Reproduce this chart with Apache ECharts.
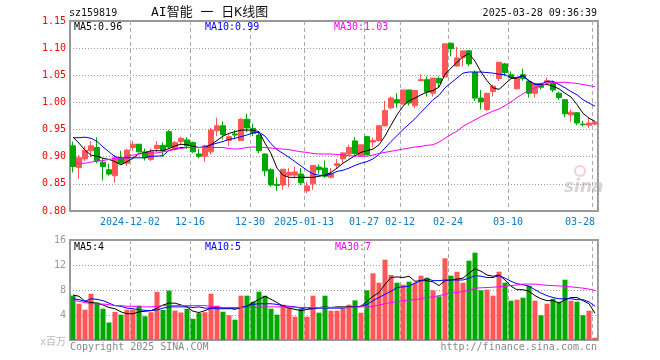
<!DOCTYPE html>
<html><head><meta charset="utf-8">
<script src="https://cdn.jsdelivr.net/npm/echarts/dist/echarts.min.js"></script>
<style>html,body{margin:0;padding:0;background:#fff}#c{width:660px;height:360px}</style>
</head><body><div id="c"></div>
<script>
const dates = ['2024-11-18','2024-11-19','2024-11-20','2024-11-21','2024-11-22','2024-11-25','2024-11-26','2024-11-27','2024-11-28','2024-11-29',
'2024-12-02','2024-12-03','2024-12-04','2024-12-05','2024-12-06','2024-12-09','2024-12-10','2024-12-11','2024-12-12','2024-12-13',
'2024-12-16','2024-12-17','2024-12-18','2024-12-19','2024-12-20','2024-12-23','2024-12-24','2024-12-25','2024-12-26','2024-12-27',
'2024-12-30','2024-12-31','2025-01-02','2025-01-03','2025-01-06','2025-01-07','2025-01-08','2025-01-09','2025-01-10',
'2025-01-13','2025-01-14','2025-01-15','2025-01-16','2025-01-17','2025-01-20','2025-01-21','2025-01-22','2025-01-23','2025-01-24',
'2025-01-27','2025-02-05','2025-02-06','2025-02-07','2025-02-10','2025-02-11',
'2025-02-12','2025-02-13','2025-02-14','2025-02-17','2025-02-18','2025-02-19','2025-02-20','2025-02-21',
'2025-02-24','2025-02-25','2025-02-26','2025-02-27','2025-02-28','2025-03-03','2025-03-04','2025-03-05','2025-03-06','2025-03-07',
'2025-03-10','2025-03-11','2025-03-12','2025-03-13','2025-03-14','2025-03-17','2025-03-18','2025-03-19','2025-03-20','2025-03-21',
'2025-03-24','2025-03-25','2025-03-26','2025-03-27','2025-03-28'];

const tickDates = ['2024-12-02','2024-12-16','2024-12-30','2025-01-13','2025-01-27','2025-02-12','2025-02-24','2025-03-10','2025-03-28'];
const tickText  = ['2024-12-02','12-16','12-30','2025-01-13','01-27','02-12','02-24','03-10','03-28'];

const open  = [0.920,0.880,0.896,0.911,0.917,0.890,0.876,0.865,0.897,0.888,
0.917,0.923,0.909,0.895,0.915,0.921,0.946,0.914,0.928,0.931,
0.926,0.905,0.901,0.909,0.948,0.957,0.930,0.942,0.930,0.969,
0.952,0.940,0.905,0.876,0.849,0.848,0.866,0.866,0.868,0.837,
0.850,0.881,0.879,0.862,0.884,0.896,0.905,0.929,0.902,0.937,
0.927,0.930,0.957,0.990,1.005,0.997,1.023,0.994,1.040,1.042,
1.017,1.044,1.047,1.109,1.067,1.083,1.095,1.055,1.008,0.987,
1.020,1.044,1.071,1.051,1.025,1.051,1.039,1.017,1.034,1.036,
1.036,1.017,1.005,0.977,0.981,0.960,0.958,0.960];
const close = [0.882,0.898,0.912,0.920,0.892,0.882,0.868,0.898,0.888,0.912,
0.923,0.909,0.898,0.909,0.921,0.912,0.918,0.926,0.934,0.920,
0.909,0.901,0.920,0.949,0.957,0.941,0.937,0.940,0.969,0.953,
0.943,0.911,0.874,0.848,0.847,0.877,0.871,0.872,0.852,0.846,
0.884,0.876,0.864,0.869,0.887,0.907,0.917,0.906,0.922,0.904,
0.930,0.957,0.985,1.008,0.999,1.023,0.999,1.022,1.042,1.019,
1.045,1.036,1.108,1.099,1.082,1.095,1.071,1.008,1.001,1.017,
1.030,1.074,1.055,1.046,1.045,1.044,1.017,1.034,1.028,1.040,
1.023,1.009,0.979,0.982,0.962,0.959,0.962,0.964];
const low   = [0.871,0.859,0.892,0.899,0.888,0.856,0.865,0.852,0.888,0.883,
0.911,0.908,0.893,0.892,0.909,0.900,0.915,0.911,0.923,0.914,
0.907,0.897,0.891,0.904,0.938,0.932,0.920,0.932,0.929,0.945,
0.938,0.906,0.864,0.845,0.837,0.839,0.844,0.860,0.848,0.833,
0.839,0.869,0.861,0.860,0.879,0.887,0.901,0.902,0.900,0.902,
0.917,0.928,0.956,0.987,0.990,0.995,0.994,0.989,1.039,1.011,
1.011,1.028,1.047,1.085,1.066,1.066,1.067,1.003,0.987,0.984,
1.011,1.039,1.048,1.044,1.024,1.040,1.009,1.009,1.024,1.033,
1.019,1.005,0.973,0.964,0.958,0.956,0.953,0.958];
const high  = [0.928,0.903,0.920,0.929,0.936,0.897,0.887,0.903,0.911,0.915,
0.929,0.923,0.915,0.915,0.929,0.926,0.949,0.929,0.937,0.936,
0.928,0.914,0.922,0.953,0.972,0.965,0.941,0.949,0.971,0.979,
0.961,0.947,0.906,0.879,0.862,0.877,0.879,0.882,0.879,0.854,
0.884,0.886,0.893,0.879,0.896,0.908,0.922,0.936,0.922,0.938,
0.935,0.957,1.003,1.011,1.017,1.023,1.023,1.023,1.052,1.048,
1.045,1.048,1.108,1.110,1.102,1.095,1.097,1.059,1.023,1.017,
1.033,1.074,1.073,1.057,1.046,1.062,1.042,1.036,1.036,1.046,
1.040,1.020,1.006,0.987,0.982,0.966,0.971,0.965];

const ma5 = [0.936,0.925,0.912,0.903,0.901,0.897,0.895,0.891,0.885,0.891,
0.897,0.906,0.907,0.911,0.911,0.911,0.915,0.920,0.923,0.922,
0.919,0.917,0.917,0.922,0.930,0.938,0.943,0.946,0.949,0.949,
0.949,0.946,0.925,0.906,0.879,0.866,0.862,0.862,0.862,0.862,
0.862,0.864,0.866,0.871,0.879,0.888,0.895,0.902,0.908,0.911,
0.914,0.922,0.938,0.958,0.977,0.993,1.003,1.008,1.014,1.019,
1.022,1.028,1.052,1.063,1.074,1.084,1.090,1.076,1.056,1.040,
1.027,1.024,1.034,1.044,1.045,1.049,1.039,1.034,1.033,1.033,
1.030,1.025,1.017,1.010,0.996,0.980,0.971,0.965];
const ma10 = [0.935,0.935,0.936,0.934,0.928,0.918,0.909,0.900,0.898,0.898,
0.898,0.898,0.898,0.901,0.901,0.902,0.912,0.914,0.917,0.917,
0.917,0.917,0.918,0.922,0.925,0.928,0.932,0.934,0.937,0.940,
0.944,0.945,0.938,0.924,0.913,0.906,0.899,0.891,0.883,0.875,
0.868,0.866,0.865,0.868,0.873,0.875,0.879,0.884,0.888,0.891,
0.896,0.904,0.916,0.928,0.939,0.950,0.960,0.970,0.982,0.993,
1.005,1.013,1.027,1.036,1.045,1.054,1.056,1.056,1.056,1.055,
1.054,1.052,1.051,1.046,1.046,1.050,1.040,1.033,1.034,1.039,
1.039,1.033,1.027,1.020,1.014,1.005,0.999,0.993];
const ma30 = [0.888,0.888,0.888,0.890,0.892,0.893,0.895,0.897,0.897,0.901,
0.903,0.905,0.906,0.907,0.907,0.909,0.911,0.914,0.915,0.917,
0.917,0.917,0.917,0.917,0.917,0.917,0.915,0.914,0.915,0.917,
0.918,0.917,0.917,0.916,0.915,0.914,0.913,0.911,0.909,0.908,
0.906,0.905,0.905,0.905,0.904,0.903,0.902,0.901,0.901,0.901,
0.903,0.906,0.908,0.910,0.912,0.914,0.916,0.918,0.919,0.921,
0.922,0.927,0.934,0.941,0.947,0.956,0.962,0.968,0.974,0.979,
0.984,0.988,0.994,1.001,1.009,1.016,1.022,1.027,1.031,1.035,
1.037,1.037,1.037,1.036,1.035,1.033,1.031,1.029];

const vol = [7.1,5.8,4.85,7.4,6.0,5.0,2.8,4.5,4.05,4.85,
4.85,5.5,3.8,4.45,7.7,4.8,7.9,4.7,4.4,5.0,
3.4,4.3,4.45,7.4,5.5,4.53,3.95,3.25,7.09,7.09,
6.13,7.73,7.09,5.01,4.05,5.65,5.17,3.73,5.01,3.73,
7.09,4.37,7.09,4.69,4.69,5.01,5.65,6.35,4.37,7.95,
10.67,9.17,12.85,10.4,9.17,8.85,9.33,9.17,10.29,9.97,
7.95,6.99,13.07,10.29,10.93,9.17,12.69,13.97,7.95,8.05,
7.09,10.93,9.17,6.29,6.45,6.77,8.69,6.29,3.95,5.81,
6.61,6.13,9.65,6.29,6.13,3.95,4.69,0.37];
const vma5 = [7.2,7.0,6.2,6.0,5.9,5.6,5.2,5.0,4.5,4.2,
4.2,4.5,4.6,4.7,5.1,5.6,5.9,5.9,5.6,5.3,
4.6,4.4,4.7,5.1,5.2,5.1,5.1,4.9,5.2,5.4,
6.0,6.5,7.0,6.5,6.0,5.4,5.1,4.9,4.7,4.9,
5.2,5.2,5.3,5.2,5.3,5.3,5.3,5.3,5.4,6.2,
7.0,7.6,8.9,10.0,10.1,10.0,10.2,9.4,9.5,9.5,
9.3,8.7,9.5,9.6,9.75,9.9,10.7,11.4,11.0,10.4,
10.2,10.4,9.6,8.6,8.05,8.05,7.8,7.1,6.6,6.3,
6.3,5.9,6.45,6.8,6.8,6.3,5.8,4.3];
const vma10 = [6.6,6.45,6.2,6.6,6.5,6.3,5.9,5.5,5.4,5.1,
5.0,4.85,4.75,4.7,4.8,5.1,5.3,5.3,5.3,5.3,
5.2,5.3,5.1,5.1,5.0,5.0,5.0,5.1,5.2,5.4,
5.7,5.8,5.8,5.8,5.7,5.5,5.4,5.3,5.1,4.9,
5.0,5.1,5.1,5.1,5.1,5.1,5.2,5.3,5.4,5.7,
6.3,6.8,7.3,7.8,8.4,8.5,8.6,9.1,9.5,9.8,
9.5,9.5,9.6,9.6,9.6,9.6,9.9,10.3,10.2,10.0,
10.0,10.3,9.9,9.4,9.0,8.85,8.6,8.05,7.5,7.1,
6.8,6.6,6.6,6.6,6.45,6.45,6.1,5.4];
const vma30 = [6.3,6.2,6.0,5.8,5.8,5.75,5.65,5.5,5.5,5.4,
5.4,5.3,5.3,5.3,5.4,5.5,5.5,5.5,5.5,5.5,
5.5,5.5,5.5,5.4,5.3,5.2,5.2,5.2,5.2,5.2,
5.2,5.25,5.3,5.3,5.3,5.3,5.3,5.25,5.2,5.2,
5.2,5.2,5.2,5.2,5.2,5.2,5.2,5.25,5.3,5.3,
5.4,5.6,5.8,6.0,6.1,6.3,6.4,6.45,6.6,6.8,
6.9,7.1,7.3,7.5,7.6,7.8,7.9,8.3,8.35,8.4,
8.45,8.5,8.6,8.7,8.8,8.95,8.95,8.95,8.85,8.75,
8.7,8.65,8.6,8.5,8.4,8.3,8.15,7.9];

const priceTicks = [0.80, 1.15, 0.05];
const volTicks = [0, 16, 4];

const UP = '#ff5757', DOWN = '#00a800';
const MONO = "'DejaVu Sans Mono','Liberation Mono',monospace";
const tickSet = new Set(tickDates.map(d => dates.indexOf(d)));
const tickLabel = {};
tickDates.forEach((d, k) => { tickLabel[dates.indexOf(d)] = tickText[k]; });
const lastIdx = dates.length - 1;

const candles = dates.map((d, i) => [open[i], close[i], low[i], high[i]]);

const chart = echarts.init(document.getElementById('c'), null, {renderer: 'canvas'});
const vSplit = {show: true, interval: (i) => tickSet.has(i), lineStyle: {color: '#aaa', type: [4, 3], width: 1}};
const hSplit = {show: true, lineStyle: {color: '#999', type: [1, 2], width: 1}};

function txt(text, x, y, fill, font, align) {
  return {type: 'text', x: x, y: y, silent: true, z: 100,
    style: {text: text, fill: fill, font: font, textAlign: align || 'left', textVerticalAlign: 'middle'}};
}

chart.setOption({
  animation: false,
  backgroundColor: '#fff',
  grid: [
    {left: 70, top: 21, width: 528, height: 190, show: true, borderColor: '#999', borderWidth: 2, backgroundColor: 'transparent', outerBoundsMode: 'none', containLabel: false},
    {left: 70, top: 240, width: 528, height: 100, show: true, borderColor: '#999', borderWidth: 2, backgroundColor: 'transparent', outerBoundsMode: 'none', containLabel: false}
  ],
  xAxis: [
    {type: 'category', gridIndex: 0, data: dates, boundaryGap: true,
     axisLine: {show: false}, axisTick: {show: false},
     axisLabel: {show: true, interval: (i) => tickSet.has(i), color: '#0a7cc8', fontFamily: MONO, fontSize: 10, margin: 6,
       padding: [0, 6, 0, 0], hideOverlap: false,
       formatter: (v, i) => { const t = tickLabel[i] || ''; return i === lastIdx ? t + '    ' : t; }},
     splitLine: vSplit},
    {type: 'category', gridIndex: 1, data: dates, boundaryGap: true,
     axisLine: {show: false}, axisTick: {show: false}, axisLabel: {show: false},
     splitLine: vSplit}
  ],
  yAxis: [
    {type: 'value', gridIndex: 0, min: priceTicks[0], max: priceTicks[1], interval: priceTicks[2], scale: true,
     axisLine: {show: true, lineStyle: {color: '#999', width: 2}}, axisTick: {show: false},
     axisLabel: {color: '#ff0000', fontFamily: MONO, fontSize: 10, margin: 4, formatter: v => v.toFixed(2)},
     splitLine: hSplit},
    {type: 'value', gridIndex: 1, min: volTicks[0], max: volTicks[1], interval: volTicks[2],
     axisLine: {show: true, lineStyle: {color: '#999', width: 2}}, axisTick: {show: false},
     axisLabel: {color: '#9a9a9a', fontFamily: MONO, fontSize: 10, margin: 4, formatter: v => v === 0 ? '' : String(v)},
     splitLine: hSplit}
  ],
  series: [
    {type: 'candlestick', xAxisIndex: 0, yAxisIndex: 0, data: candles, barWidth: 5,
     itemStyle: {color: UP, color0: DOWN, borderColor: UP, borderColor0: DOWN, borderWidth: 1}},
    {type: 'line', xAxisIndex: 0, yAxisIndex: 0, data: ma5, showSymbol: false, symbol: 'none', lineStyle: {color: '#000', width: 1}},
    {type: 'line', xAxisIndex: 0, yAxisIndex: 0, data: ma10, showSymbol: false, symbol: 'none', lineStyle: {color: '#0000ff', width: 1}},
    {type: 'line', xAxisIndex: 0, yAxisIndex: 0, data: ma30, showSymbol: false, symbol: 'none', lineStyle: {color: '#ff00ff', width: 1}},
    {type: 'bar', xAxisIndex: 1, yAxisIndex: 1, data: vol, barWidth: 5,
     itemStyle: {color: (p) => close[p.dataIndex] >= open[p.dataIndex] ? UP : DOWN}},
    {type: 'line', xAxisIndex: 1, yAxisIndex: 1, data: vma5, showSymbol: false, symbol: 'none', lineStyle: {color: '#000', width: 1}},
    {type: 'line', xAxisIndex: 1, yAxisIndex: 1, data: vma10, showSymbol: false, symbol: 'none', lineStyle: {color: '#0000ff', width: 1}},
    {type: 'line', xAxisIndex: 1, yAxisIndex: 1, data: vma30, showSymbol: false, symbol: 'none', lineStyle: {color: '#ff00ff', width: 1}}
  ],
  graphic: [
    txt('sz159819', 69, 13, '#111', '10px ' + MONO),
    txt('AI智能 一 日K线图', 151, 13, '#111', "13px 'DejaVu Sans Mono','Noto Sans CJK SC',monospace"),
    txt('2025-03-28 09:36:39', 597, 13, '#111', '10px ' + MONO, 'right'),
    txt('MA5:' + ma5[lastIdx].toFixed(2), 74, 27, '#000', '10px ' + MONO),
    txt('MA10:' + ma10[lastIdx].toFixed(2), 205, 27, '#0000ff', '10px ' + MONO),
    txt('MA30:' + ma30[lastIdx].toFixed(2), 334, 27, '#ff00ff', '10px ' + MONO),
    txt('MA5:' + Math.round(vma5[lastIdx]), 74, 247, '#000', '10px ' + MONO),
    txt('MA10:' + Math.round(vma10[lastIdx]), 205, 247, '#0000ff', '10px ' + MONO),
    txt('MA30:7', 335, 247, '#ff00ff', '10px ' + MONO),
    txt('x百万', 66, 342, '#bbb', "10px 'DejaVu Sans Mono','Noto Sans CJK SC',monospace", 'right'),
    txt('Copyright 2025 SINA.COM', 70, 347, '#888', '10px ' + MONO),
    txt('http://finance.sina.com.cn', 597, 347, '#888', '10px ' + MONO, 'right'),
    {type: 'circle', shape: {cx: 580, cy: 171, r: 5}, silent: true, z: 1,
     style: {fill: 'none', stroke: 'rgba(235,150,150,0.45)', lineWidth: 2}},
    txt('sina', 564, 188, 'rgba(170,160,160,0.45)', "italic bold 17px 'DejaVu Sans',sans-serif")
  ]
});
</script>
</body></html>
